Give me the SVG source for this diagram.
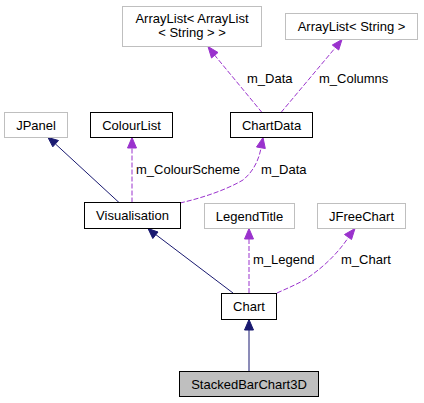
<svg xmlns="http://www.w3.org/2000/svg" width="424" height="403" viewBox="0 0 424 403">
<style>
text{font-family:"Liberation Sans",Arial,sans-serif;font-size:13px;fill:#000}
.n text{text-anchor:middle}
.doc{fill:#fff;stroke:#000;stroke-width:1}
.und{fill:#fff;stroke:#bfbfbf;stroke-width:1}
.cur{fill:#bfbfbf;stroke:#000;stroke-width:1}
.inh{fill:none;stroke:#191970;stroke-width:1}
.use{fill:none;stroke:#9a32cd;stroke-width:1;stroke-dasharray:5,2}
.hi{fill:#191970;stroke:#191970}
.hu{fill:#9a32cd;stroke:#9a32cd}
</style>
<rect width="424" height="403" fill="#fff"/>
<g id="connectors">
  <path class="inh" d="M119,202.5 L55.5,144"/>
  <polygon class="hi" points="48,137.5 58.5,140.5 52.8,146.8"/>
  <path class="inh" d="M233,293 L155,234"/>
  <polygon class="hi" points="148,228.5 158,232 152.8,238.5"/>
  <path class="inh" d="M249,371 L249,330"/>
  <polygon class="hi" points="249,319.5 253.5,330 244.5,330"/>

  <path class="use" d="M262,112.5 L214.5,55"/>
  <polygon class="hu" points="208,46.5 218,52.5 211.5,58"/>
  <path class="use" d="M281,112.5 L335.5,47.5"/>
  <polygon class="hu" points="342,39.5 338.7,50 332.3,45"/>
  <path class="use" d="M132,202.5 L132,148"/>
  <polygon class="hu" points="132,137.5 136.5,148 127.5,148"/>
  <path class="use" d="M180,203 C202,198 226,190 243,180 C254,171 259,159 261,148"/>
  <polygon class="hu" points="263,137.5 265.3,148.5 256.5,147"/>
  <path class="use" d="M249,293 L249,239"/>
  <polygon class="hu" points="249,228.5 253.5,239 244.5,239"/>
  <path class="use" d="M277,293 C290,287 303,282 313,274 C328,263 340,250 348,238"/>
  <polygon class="hu" points="355,228.5 351.5,239.5 344.5,234.5"/>

  <text x="247" y="82.5">m_Data</text>
  <text x="319" y="82.5">m_Columns</text>
  <text x="136" y="174">m_ColourScheme</text>
  <text x="261" y="174">m_Data</text>
  <text x="253" y="264">m_Legend</text>
  <text x="341" y="264">m_Chart</text>
</g>
<g id="ArrayListArrayList" class="n">
  <rect class="und" x="122.5" y="6.5" width="139" height="40"/>
  <text x="192" y="23">ArrayList&lt; ArrayList</text>
  <text x="192" y="37">&lt; String &gt; &gt;</text>
</g>
<g id="ArrayListString" class="n">
  <rect class="und" x="285.5" y="13.5" width="132" height="26"/>
  <text x="351.5" y="30.5">ArrayList&lt; String &gt;</text>
</g>
<g id="JPanel" class="n">
  <rect class="und" x="4.5" y="112.5" width="63" height="25"/>
  <text x="36" y="129.5">JPanel</text>
</g>
<g id="ColourList" class="n">
  <rect class="doc" x="90.5" y="112.5" width="82" height="25"/>
  <text x="131.5" y="129.5">ColourList</text>
</g>
<g id="ChartData" class="n">
  <rect class="doc" x="230.5" y="112.5" width="82" height="25"/>
  <text x="271.5" y="129.5">ChartData</text>
</g>
<g id="Visualisation" class="n">
  <rect class="doc" x="84.5" y="202.5" width="96" height="26"/>
  <text x="132.5" y="220">Visualisation</text>
</g>
<g id="LegendTitle" class="n">
  <rect class="und" x="204.5" y="203.5" width="90" height="25"/>
  <text x="249.5" y="220.5">LegendTitle</text>
</g>
<g id="JFreeChart" class="n">
  <rect class="und" x="317.5" y="203.5" width="88" height="25"/>
  <text x="361.5" y="220.5">JFreeChart</text>
</g>
<g id="Chart" class="n">
  <rect class="doc" x="221.5" y="293.5" width="55" height="26"/>
  <text x="249" y="311">Chart</text>
</g>
<g id="StackedBarChart3D" class="n">
  <rect class="cur" x="179.5" y="371.5" width="139" height="25"/>
  <text x="249" y="388.5">StackedBarChart3D</text>
</g>
</svg>
